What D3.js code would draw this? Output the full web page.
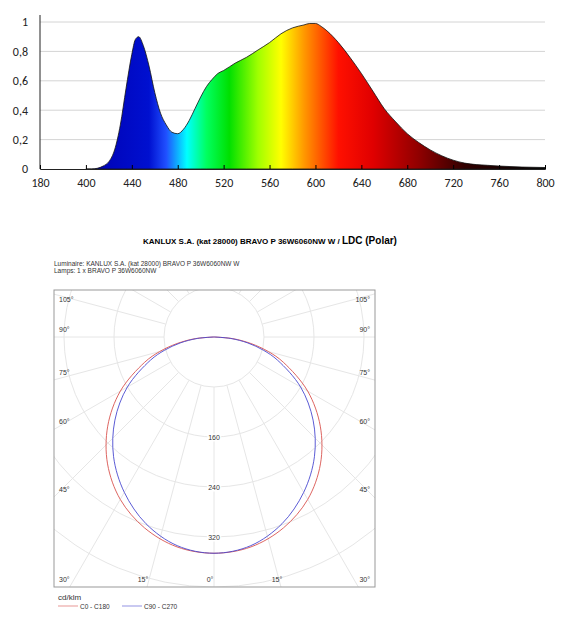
<!DOCTYPE html>
<html><head><meta charset="utf-8">
<script src="https://cdn.jsdelivr.net/npm/d3@7"></script>
<style>body{margin:0;background:#fff}svg{display:block}</style>
</head><body>
<svg width="567" height="639"></svg>
<script>
// spectrum data (relative power by wavelength, nm)
var wavelengths = [400,405,410,415,420,425,430,435,440,443,446,450,455,460,465,470,475,480,485,490,495,500,505,510,515,520,530,540,550,560,570,580,590,595,600,605,610,620,630,640,650,660,670,680,690,700,710,720,730,740,750,760,780,800];
var power = [0,0,0.005,0.02,0.05,0.13,0.3,0.55,0.78,0.88,0.9,0.84,0.7,0.52,0.38,0.3,0.25,0.24,0.27,0.33,0.41,0.49,0.56,0.61,0.65,0.67,0.72,0.76,0.81,0.86,0.92,0.96,0.98,0.99,0.99,0.97,0.94,0.86,0.76,0.65,0.53,0.41,0.32,0.24,0.18,0.13,0.09,0.06,0.04,0.03,0.025,0.02,0.013,0.01];
var xTicks = [360,400,440,480,520,560,600,640,680,720,760,800];
var xTickLabels = ["180","400","440","480","520","560","600","640","680","720","760","800"];
var yTicks = [0,0.2,0.4,0.6,0.8,1];
var yTickLabels = ["0","0,2","0,4","0,6","0,8","1"];
var gradStops = [[400,"#0000b0"],[455,"#0010d0"],[470,"#2050ff"],[488,"#00ffff"],[505,"#00ff60"],[525,"#00e000"],[550,"#a0ff00"],[570,"#ffff00"],[590,"#ff9900"],[620,"#ff1000"],[650,"#e00000"],[690,"#900000"],[730,"#300000"],[800,"#000000"]];

// polar data (cd/klm)
var polarAngles = [0,10,20,30,40,50,60,70,75,80,85,90];
var c0c180 = [346,341,325,300,265,222,173,118,90,60,30,0];
var c90c270 = [346,339,318,287,250,207,160,108,82,55,27,0];
var rings = [80,160,240,320,400];
var ringLabels = ["160","240","320"];
var leftAngleLabels = [105,90,75,60,45,30];
var bottomAngleLabels = [-15,0,15];

var svg = d3.select("svg");
var font = "'Liberation Sans', Arial, sans-serif";

// ---------- spectrum chart
var x = d3.scaleLinear().domain([360,800]).range([40,545]);
var y = d3.scaleLinear().domain([0,1]).range([169,22]);

var grad = svg.append("defs").append("linearGradient").attr("id","spec")
    .attr("gradientUnits","userSpaceOnUse")
    .attr("x1",x(400)).attr("x2",x(800)).attr("y1",0).attr("y2",0);
gradStops.forEach(function(s){
    grad.append("stop").attr("offset",(s[0]-400)/400).attr("stop-color",s[1]);
});

svg.append("g").selectAll("line").data(yTicks.slice(1)).enter().append("line")
    .attr("x1",40).attr("x2",545).attr("y1",function(d){return y(d);}).attr("y2",function(d){return y(d);})
    .attr("stroke","#d4d4d4");

var area = d3.area().x(function(d,i){return x(wavelengths[i]);}).y0(y(0)).y1(function(d){return y(d);}).curve(d3.curveMonotoneX);
svg.append("path").datum(power).attr("d",area).attr("fill","url(#spec)")
    .attr("stroke","#111").attr("stroke-width",0.8);

var yAxis = svg.append("g").attr("transform","translate(40,0)")
    .call(d3.axisLeft(y).tickValues(yTicks).tickSize(0).tickPadding(12).tickFormat(function(d,i){return yTickLabels[i];}));
yAxis.select(".domain").attr("stroke","#222").attr("d","M0,15V169");
var xAxis = svg.append("g").attr("transform","translate(0,169)")
    .call(d3.axisBottom(x).tickValues(xTicks).tickSize(-4).tickPadding(9).tickFormat(function(d,i){return xTickLabels[i];}));
xAxis.select(".domain").attr("stroke","#222");
svg.selectAll(".tick text").attr("font-family","Carlito, 'Liberation Sans', sans-serif").attr("font-size",12).attr("fill","#222");

// ---------- polar chart
var t = svg.append("text").attr("x",270).attr("y",244).attr("text-anchor","middle")
    .attr("font-family",font).attr("font-weight","bold").attr("font-size",8);
t.append("tspan").text("KANLUX S.A. (kat 28000) BRAVO P 36W6060NW W / ");
t.append("tspan").attr("font-size",10).text("LDC (Polar)");
svg.append("text").attr("x",54).attr("y",266).attr("font-family",font).attr("font-size",6.5).attr("fill","#333")
    .text("Luminaire: KANLUX S.A. (kat 28000) BRAVO P 36W6060NW W");
svg.append("text").attr("x",54).attr("y",273).attr("font-family",font).attr("font-size",6.5).attr("fill","#333")
    .text("Lamps: 1 x BRAVO P 36W6060NW");

var box = {l:54,r:375,t:290,b:587};
var cx = 214, cy = 337;
var r = d3.scaleLinear().domain([0,400]).range([0,250]);
svg.append("defs").append("clipPath").attr("id","pc").append("rect")
    .attr("x",box.l).attr("y",box.t).attr("width",box.r-box.l).attr("height",box.b-box.t);
var pg = svg.append("g").attr("clip-path","url(#pc)");

pg.selectAll("circle.ring").data(rings).enter().append("circle")
    .attr("cx",cx).attr("cy",cy).attr("r",function(d){return r(d);})
    .attr("fill","none").attr("stroke","#e6e6e6");
var spokes = d3.range(-180,180,15);
pg.selectAll("line.sp").data(spokes).enter().append("line")
    .attr("x1",function(a){return cx+r(80)*Math.sin(a*Math.PI/180);})
    .attr("y1",function(a){return cy+r(80)*Math.cos(a*Math.PI/180);})
    .attr("x2",function(a){return cx+600*Math.sin(a*Math.PI/180);})
    .attr("y2",function(a){return cy+600*Math.cos(a*Math.PI/180);})
    .attr("stroke","#e6e6e6");

function polarPath(vals, col){
    var pts = [];
    for (var i = polarAngles.length-1; i >= 0; i--) pts.push([-polarAngles[i], vals[i]]);
    for (var j = 1; j < polarAngles.length; j++) pts.push([polarAngles[j], vals[j]]);
    var line = d3.line()
        .x(function(p){return cx + r(p[1])*Math.sin(p[0]*Math.PI/180);})
        .y(function(p){return cy + r(p[1])*Math.cos(p[0]*Math.PI/180);})
        .curve(d3.curveCatmullRom);
    pg.append("path").datum(pts).attr("d",line).attr("fill","none").attr("stroke",col).attr("stroke-width",0.9);
}
polarPath(c0c180,"#d9534f");
polarPath(c90c270,"#4a4ad0");

svg.append("rect").attr("x",box.l).attr("y",box.t).attr("width",box.r-box.l).attr("height",box.b-box.t)
    .attr("fill","none").attr("stroke","#999");

svg.selectAll("text.rl").data(ringLabels).enter().append("text")
    .attr("x",cx).attr("y",function(d){return cy+r(+d)+3;}).attr("text-anchor","middle")
    .attr("font-family",font).attr("font-size",7).attr("fill","#333")
    .attr("stroke","#fff").attr("stroke-width",3).attr("paint-order","stroke").text(function(d){return d;});

// angle labels where spokes meet the box edges
leftAngleLabels.forEach(function(a){
    var s = Math.sin(a*Math.PI/180), c = Math.cos(a*Math.PI/180);
    var yy = cy + (cx-box.l)*c/s;
    if (yy > box.b) yy = box.b;
    yy = Math.max(box.t+12, Math.min(box.b-5, yy-5));
    [[box.l+5,"start"],[box.r-5,"end"]].forEach(function(p){
        svg.append("text").attr("x",p[0]).attr("y",yy).attr("text-anchor",p[1])
            .attr("font-family",font).attr("font-size",7).attr("fill","#333").text(a+"°");
    });
});
bottomAngleLabels.forEach(function(a){
    var xx = cx + r(400)*Math.tan(a*Math.PI/180);
    svg.append("text").attr("x",xx-4).attr("y",box.b-5).attr("text-anchor","middle")
        .attr("font-family",font).attr("font-size",7).attr("fill","#333").text(Math.abs(a)+"°");
});

// legend
svg.append("text").attr("x",58).attr("y",600).attr("font-family",font).attr("font-size",8).attr("fill","#333").text("cd/klm");
[["C0 - C180","#d9534f",58],["C90 - C270","#4a4ad0",122]].forEach(function(l){
    svg.append("line").attr("x1",l[2]).attr("x2",l[2]+20).attr("y1",606).attr("y2",606).attr("stroke",l[1]).attr("stroke-width",0.6);
    svg.append("text").attr("x",l[2]+22).attr("y",608.5).attr("font-family",font).attr("font-size",6.5).attr("fill","#333").text(l[0]);
});
</script>
</body></html>
